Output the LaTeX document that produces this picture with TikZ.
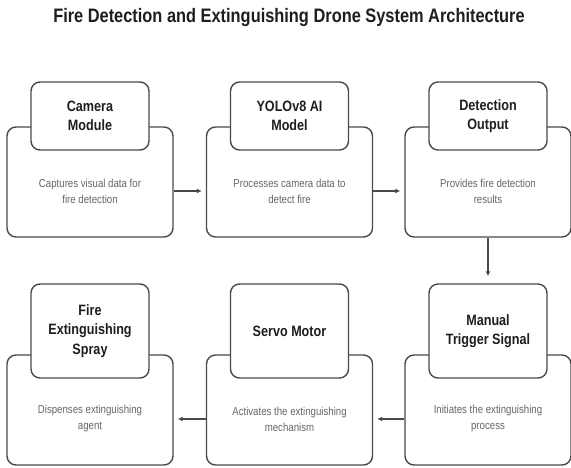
\documentclass[tikz,border=0pt]{standalone}
\usepackage{fontspec}
\setmainfont[FakeStretch=0.84]{Liberation Sans}
\usetikzlibrary{arrows.meta}
\definecolor{edgegray}{HTML}{4A4A4A}
\definecolor{headtext}{HTML}{1E1E1E}
\definecolor{desctext}{HTML}{666666}
\begin{document}
\begin{tikzpicture}[x=1pt,y=-1pt,
  bigbox/.style={draw=edgegray, line width=1.4pt, rounded corners=9pt, fill=white,
    minimum width=166pt, minimum height=110pt, inner sep=0pt},
  headbox/.style={draw=edgegray, line width=1.4pt, rounded corners=9pt, fill=white,
    minimum width=118pt, inner sep=0pt, align=center, text=headtext,
    font=\bfseries\fontsize{15}{19.5}\selectfont},
  desc/.style={align=center, text=desctext, font=\fontsize{11.5}{16}\selectfont, inner sep=0pt},
  arr/.style={draw=edgegray, line width=1.4pt, -{Latex[length=5pt,width=5pt]}}
]
\useasboundingbox (0,0) rectangle (571,468);
\node[font=\bfseries\fontsize{19.5}{22}\selectfont, text=headtext] (title) at (289,18) {Fire Detection and Extinguishing Drone System Architecture};

% row 1
\node[bigbox] (b1) at (90,182) {};
\node[bigbox] (b2) at (289.5,182) {};
\node[bigbox] (b3) at (488,182) {};
\node[headbox, minimum height=68pt] (h1) at (90,116) {Camera\\Module};
\node[headbox, minimum height=68pt] (h2) at (289.5,116) {YOLOv8 AI\\Model};
\node[headbox, minimum height=68pt] (h3) at (488,116) {Detection\\Output};
\node[desc] (d1) at (90,191) {Captures visual data for\\fire detection};
\node[desc] (d2) at (289.5,191) {Processes camera data to\\detect fire};
\node[desc] (d3) at (488,191) {Provides fire detection\\results};

% row 2
\node[bigbox] (b4) at (90,410) {};
\node[bigbox] (b5) at (289.5,410) {};
\node[bigbox] (b6) at (488,410) {};
\node[headbox, minimum height=94pt] (h4) at (90,331) {Fire\\Extinguishing\\Spray};
\node[headbox, minimum height=94pt] (h5) at (289.5,331) {Servo Motor};
\node[headbox, minimum height=94pt] (h6) at (488,331) {Manual\\Trigger Signal};
\node[desc] (d4) at (90,419) {Dispenses extinguishing\\agent};
\node[desc] (d5) at (289.5,419) {Activates the extinguishing\\mechanism};
\node[desc] (d6) at (488,419) {Initiates the extinguishing\\process};

% connectors
\draw[arr, shorten >=4pt] (b1.east |- d1.center) -- (b2.west |- d1.center);
\draw[arr, shorten >=4pt] (b2.east |- d2.center) -- (b3.west |- d2.center);
\draw[arr, shorten >=7pt] (b3.south) -- (h6.north);
\draw[arr, shorten >=4pt] (b6.west |- d6.center) -- (b5.east |- d6.center);
\draw[arr, shorten >=4pt] (b5.west |- d5.center) -- (b4.east |- d5.center);
\end{tikzpicture}
\end{document}
